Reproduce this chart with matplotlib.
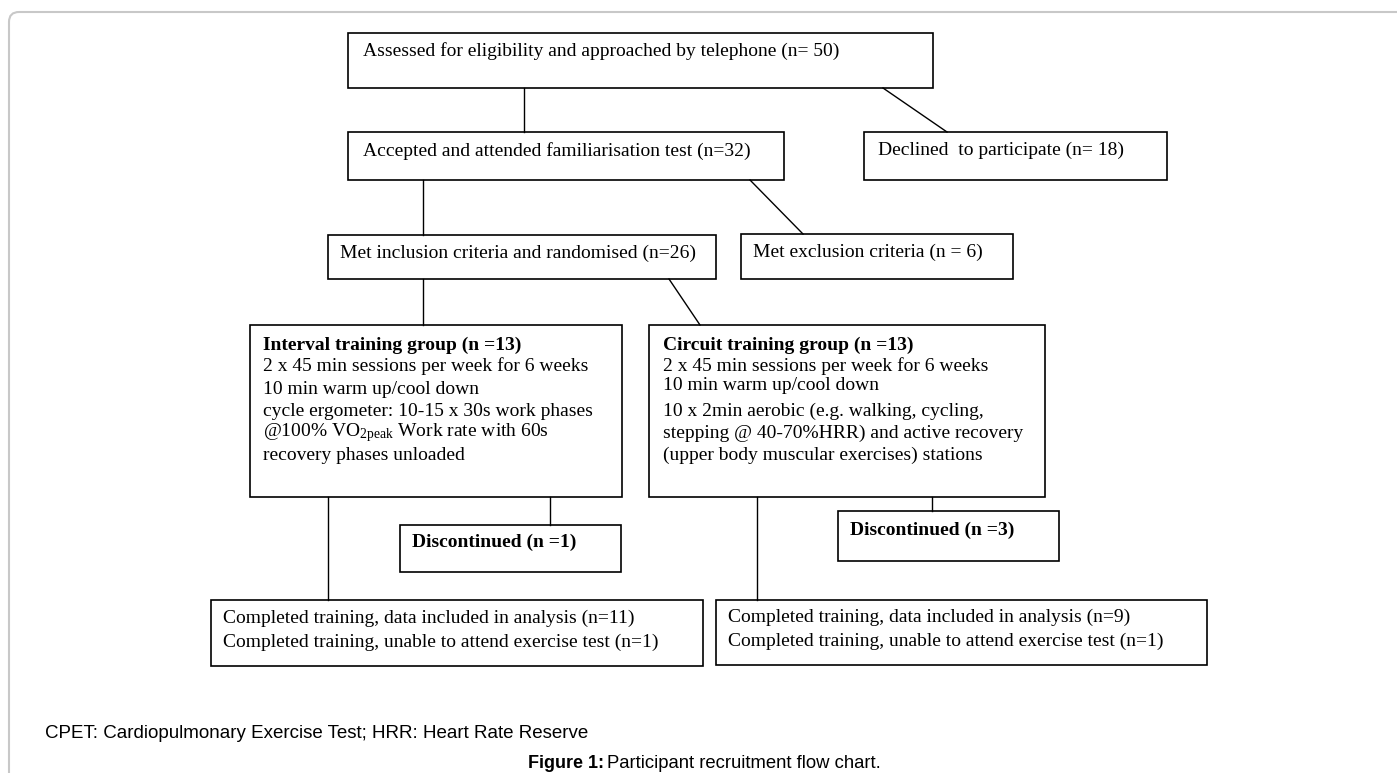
import matplotlib.pyplot as plt
from matplotlib.patches import Rectangle, FancyBboxPatch

plt.rcParams['mathtext.fontset'] = 'custom'
plt.rcParams['mathtext.rm'] = 'Liberation Serif'
plt.rcParams['mathtext.it'] = 'Liberation Serif:italic'

# flow chart content
top_labels = ["Assessed for eligibility and approached by telephone (n= 50)",
              "Accepted and attended familiarisation test (n=32)",
              "Declined  to participate (n= 18)",
              "Met inclusion criteria and randomised (n=26)",
              "Met exclusion criteria (n = 6)"]
group_titles = ["Interval training group (n =13)", "Circuit training group (n =13)"]
interval_lines = ["2 x 45 min sessions per week for 6 weeks",
                  "10 min warm up/cool down",
                  "cycle ergometer: 10-15 x 30s work phases",
                  r"@100% VO$_{\mathregular{2peak}}$ Work rate with 60s",
                  "recovery phases unloaded"]
circuit_lines = ["2 x 45 min sessions per week for 6 weeks",
                 "10 min warm up/cool down",
                 "10 x 2min aerobic (e.g. walking, cycling,",
                 "stepping @ 40-70%HRR) and active recovery",
                 "(upper body muscular exercises) stations"]
discontinued = ["Discontinued (n =1)", "Discontinued (n =3)"]
completed_left = ["Completed training, data included in analysis (n=11)",
                  "Completed training, unable to attend exercise test (n=1)"]
completed_right = ["Completed training, data included in analysis (n=9)",
                   "Completed training, unable to attend exercise test (n=1)"]
footnote = "CPET: Cardiopulmonary Exercise Test; HRR: Heart Rate Reserve"
caption = ["Figure 1:", "Participant recruitment flow chart."]

fig = plt.figure(figsize=(13.97, 7.73), dpi=100)
ax = fig.add_axes([0, 0, 1, 1])
ax.set_xlim(0, 1397)
ax.set_ylim(773, 0)
ax.axis('off')

# outer light frame
ax.add_patch(FancyBboxPatch((9, 12), 1420, 800, boxstyle="round,pad=0,rounding_size=10",
                            fill=False, ec='#c8c8c8', lw=1.5))

serif = 'Liberation Serif'
fs = 14


def box(x0, y0, x1, y1):
    ax.add_patch(Rectangle((x0, y0), x1 - x0, y1 - y0, fill=False, ec='black', lw=1.2))


def line(x0, y0, x1, y1):
    ax.plot([x0, x1], [y0, y1], color='black', lw=1.0)


def txt(x, y, s, bold=False):
    ax.text(x, y, s, family=serif, fontsize=fs, va='center', ha='left',
            fontweight='bold' if bold else 'normal')


# boxes
box(348, 33, 933, 88)
txt(363, 51, top_labels[0])
box(348, 132, 784, 180)
txt(363, 151, top_labels[1])
box(864, 132, 1167, 180)
txt(878, 150, top_labels[2])
box(328, 235, 716, 279)
txt(340, 253, top_labels[3])
box(741, 234, 1013, 279)
txt(753, 252, top_labels[4])

box(250, 325, 622, 497)
box(649, 325, 1045, 497)
txt(263, 345, group_titles[0], bold=True)
txt(663, 345, group_titles[1], bold=True)
for y, s in zip([366, 390, 411, 433, 455], interval_lines):
    txt(263, y, s)
for y, s in zip([366, 386, 411, 433, 455], circuit_lines):
    txt(663, y, s)

box(400, 525, 621, 572)
txt(412, 542, discontinued[0], bold=True)
box(838, 511, 1059, 561)
txt(850, 530, discontinued[1], bold=True)

box(211, 600, 703, 666)
for y, s in zip([618, 642], completed_left):
    txt(223, y, s)
box(716, 600, 1207, 665)
for y, s in zip([617, 641], completed_right):
    txt(728, y, s)

# connectors
line(524, 88, 524, 132)
line(883, 88, 947, 132)
line(423, 180, 423, 235)
line(750, 180, 803, 234)
line(423, 279, 423, 325)
line(669, 279, 700, 325)
line(328, 497, 328, 600)
line(550, 497, 550, 525)
line(757, 497, 757, 600)
line(932, 497, 932, 511)

# footnote and caption
ax.text(45, 733, footnote, family='Liberation Sans', fontsize=13.5, va='center', ha='left')
ax.text(528, 763, caption[0], family='Liberation Sans', fontsize=13, fontweight='bold',
        va='center', ha='left')
ax.text(607, 763, caption[1], family='Liberation Sans', fontsize=13.3,
        va='center', ha='left')

fig.savefig('out.png', dpi=100)
